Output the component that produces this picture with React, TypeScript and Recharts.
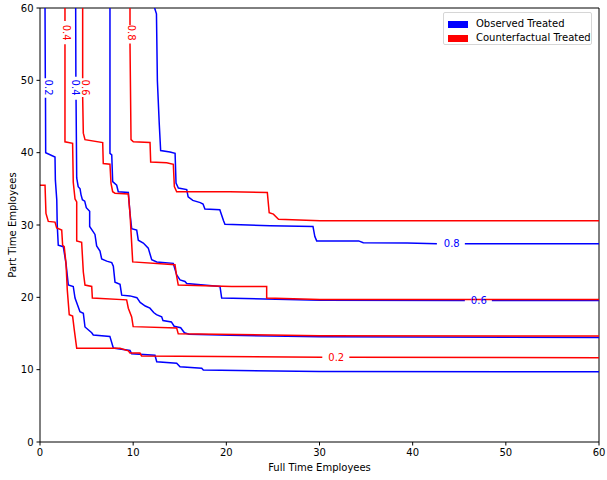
import { LineChart, Line, XAxis, YAxis, ReferenceLine, ReferenceDot } from 'recharts';

const FONT = '"DejaVu Sans", sans-serif';
const BLUE = '#0000ff';
const RED = '#ff0000';

const axisTicks = [0, 10, 20, 30, 40, 50, 60];

type Pt = [number, number | null];

// observed treated contours (blue)
const observed02: Pt[] = [
  [0.54, 60], [0.57, 50.3], [0.58, null], [0.59, 47.6], [0.61, 40.0], [1.61, 39.4],
  [1.65, 36.2], [1.8, 33.5], [1.85, 30], [1.96, 27.2], [2.5, 27.0], [2.79, 24.7],
  [3.04, 21.7], [3.57, 21.5], [3.76, 19.9], [4.29, 18.0], [4.65, 17.8], [4.83, 15.9],
  [5.55, 15.1], [5.72, 14.8], [7.5, 14.6], [7.87, 13.0], [9.66, 12.65], [9.84, 12.2],
  [12.34, 12.0], [12.53, 11.1], [14.67, 10.9], [15.03, 10.4], [17.36, 10.2],
  [17.53, 9.95], [30, 9.75], [60, 9.7],
];

const observed04: Pt[] = [
  [3.83, 60], [3.85, 50.5], [3.86, null], [3.87, 47.3], [3.94, 36.5], [4.1, 35.3],
  [4.3, 35.0], [4.4, 34.2], [4.55, 33.5], [4.8, 33.3], [4.97, 32.4], [5.33, 31.9],
  [5.33, 29.8], [5.9, 28.7], [6.08, 27.1], [6.44, 26.4], [6.62, 25.3], [7.16, 25.0],
  [7.7, 24.8], [7.87, 24.3], [8.05, 22.1], [8.59, 21.8], [8.77, 20.3], [9.66, 20.2],
  [10.4, 19.95], [10.75, 19.3], [11.3, 18.8], [11.8, 18.5], [12.2, 17.9], [12.5, 17.6],
  [13.06, 17.3], [13.2, 16.8], [14.1, 16.6], [14.4, 16.0], [15.1, 15.8], [15.5, 15.1],
  [16.0, 14.9], [20.4, 14.75], [30, 14.55], [60, 14.45],
];

const observed06: Pt[] = [
  [7.51, 60], [7.51, 39.9], [7.7, 39.7], [7.8, 36.0], [8.23, 35.5], [8.4, 34.6],
  [9.48, 34.5], [9.66, 31.6], [9.84, 29.5], [10.38, 29.3], [10.55, 27.9], [11.09, 27.5],
  [11.62, 26.8], [11.99, 25.2], [12.53, 24.9], [14.3, 24.7], [14.67, 23.1], [15.03, 22.4],
  [15.56, 22.2], [15.75, 21.9], [19.32, 21.5], [19.5, 19.9], [30.05, 19.6], [45.6, 19.55],
  [47, null], [48.5, 19.55], [60, 19.55],
];

const observed08: Pt[] = [
  [12.3, 60], [12.5, 59.2], [12.6, 49.9], [12.8, 44.0], [12.95, 40.3], [13.95, 40.1],
  [14.5, 39.9], [14.6, 35.8], [14.85, 35.1], [15.75, 34.9], [15.9, 33.9], [16.4, 33.4],
  [17.2, 33.1], [17.5, 32.9], [17.7, 32.2], [19.3, 32.1], [19.7, 30.6], [19.85, 30.1],
  [24.7, 29.9], [29.3, 29.8], [29.5, 28.4], [29.7, 27.8], [34.2, 27.8], [34.7, 27.55],
  [39.4, 27.5], [42.6, 27.4], [44, null], [45.6, 27.4], [60, 27.4],
];

// counterfactual treated contours (red)
const counter02: Pt[] = [
  [0, 35.5], [0.54, 35.5], [0.64, 31.6], [0.89, 30.5], [1.61, 30.4], [1.79, 29.6],
  [2.33, 29.3], [2.43, 27.2], [2.6, 27.0], [2.79, 24.7], [2.93, 21.0], [3.14, 17.6],
  [3.5, 17.4], [3.68, 15.5], [3.94, 12.95], [8.59, 12.95], [9.48, 12.6], [9.66, 12.3],
  [10.73, 12.3], [10.9, 11.9], [30.3, 11.7], [31.8, null], [33.2, 11.7], [60, 11.65],
];

const counter04: Pt[] = [
  [2.68, 60], [2.68, 58.2], [2.68, null], [2.68, 55.0], [2.68, 41.5], [3.5, 41.3],
  [3.57, 35.9], [3.76, 33.6], [3.94, 33.2], [3.94, 27.8], [4.47, 27.6], [4.65, 23.5],
  [4.83, 21.7], [5.55, 21.5], [5.62, 19.9], [9.3, 19.65], [9.48, 18.5], [9.84, 17.3],
  [10.0, 15.95], [14.67, 15.75], [14.84, 14.95], [30, 14.7], [60, 14.65],
];

const counter06: Pt[] = [
  [4.58, 60], [4.58, 50.3], [4.58, null], [4.58, 47.7], [4.65, 42.7], [4.83, 41.8],
  [6.73, 41.4], [6.79, 38.5], [7.51, 38.4], [7.62, 35.8], [7.8, 34.6], [8.05, 34.4],
  [9.48, 34.3], [9.66, 31.6], [9.95, 24.9], [14.49, 24.5], [14.67, 22.9], [14.84, 21.7],
  [20.57, 21.5], [24.33, 21.5], [24.33, 19.9], [30.05, 19.7], [60, 19.7],
];

const counter08: Pt[] = [
  [9.66, 60], [9.66, 57.6], [9.66, null], [9.66, 55.1], [9.77, 41.8], [10.02, 41.5],
  [11.81, 41.4], [11.88, 38.7], [13.6, 38.6], [14.31, 38.4], [14.42, 35.3], [14.67, 34.6],
  [20.4, 34.6], [24.4, 34.5], [24.6, 31.7], [25.05, 31.5], [25.6, 30.8], [30.05, 30.6],
  [60, 30.6],
];

const contours = [
  { id: 'obs02', pts: observed02, color: BLUE },
  { id: 'obs04', pts: observed04, color: BLUE },
  { id: 'obs06', pts: observed06, color: BLUE },
  { id: 'obs08', pts: observed08, color: BLUE },
  { id: 'cf02', pts: counter02, color: RED },
  { id: 'cf04', pts: counter04, color: RED },
  { id: 'cf06', pts: counter06, color: RED },
  { id: 'cf08', pts: counter08, color: RED },
];

const contourLabels = [
  { text: '0.2', x: 0.95, y: 49.0, color: BLUE, vertical: true },
  { text: '0.4', x: 3.83, y: 49.0, color: BLUE, vertical: true },
  { text: '0.6', x: 4.83, y: 49.0, color: RED, vertical: true },
  { text: '0.4', x: 2.86, y: 56.6, color: RED, vertical: true },
  { text: '0.8', x: 9.84, y: 56.6, color: RED, vertical: true },
  { text: '0.8', x: 44.2, y: 27.4, color: BLUE, vertical: false },
  { text: '0.6', x: 47.1, y: 19.6, color: BLUE, vertical: false },
  { text: '0.2', x: 31.8, y: 11.65, color: RED, vertical: false },
];

const legendItems = [
  { name: 'Observed Treated', color: BLUE },
  { name: 'Counterfactual Treated', color: RED },
];

const toRows = (pts: Pt[]) => pts.map(([x, y]) => ({ x, y }));

const tickStyle = { fontSize: 10, fontFamily: FONT, fill: '#000' };

export default function App() {
  return (
    <div style={{ position: 'absolute', left: 0, top: 0, width: 607, height: 480, background: '#fff' }}>
      <LineChart width={607} height={480} margin={{ top: 8, right: 8, bottom: 0, left: 8 }}>
        <XAxis
          type="number"
          dataKey="x"
          domain={[0, 60]}
          ticks={axisTicks}
          height={38}
          tickSize={3.5}
          tickMargin={3}
          tick={tickStyle}
          axisLine={{ stroke: '#000' }}
          tickLine={{ stroke: '#000' }}
          allowDataOverflow
          label={{
            content: ({ viewBox }: any) => (
              <text
                x={viewBox.x + viewBox.width / 2}
                y={viewBox.y + 29}
                textAnchor="middle"
                style={tickStyle}
              >
                Full Time Employees
              </text>
            ),
          }}
        />
        <YAxis
          type="number"
          dataKey="y"
          domain={[0, 60]}
          ticks={axisTicks}
          width={32}
          tickSize={3.5}
          tickMargin={3}
          tick={tickStyle}
          axisLine={{ stroke: '#000' }}
          tickLine={{ stroke: '#000' }}
          allowDataOverflow
          label={{
            content: ({ viewBox }: any) => {
              const cx = viewBox.x + 4;
              const cy = viewBox.y + viewBox.height / 2;
              return (
                <text
                  x={cx}
                  y={cy}
                  transform={`rotate(-90 ${cx} ${cy})`}
                  textAnchor="middle"
                  dominantBaseline="central"
                  style={tickStyle}
                >
                  Part Time Employees
                </text>
              );
            },
          }}
        />
        <ReferenceLine y={60} stroke="#000" strokeWidth={1} />
        <ReferenceLine x={60} stroke="#000" strokeWidth={1} />
        {contours.map((c) => (
          <Line
            key={c.id}
            data={toRows(c.pts)}
            dataKey="y"
            type="linear"
            stroke={c.color}
            strokeWidth={1.5}
            dot={false}
            activeDot={false}
            isAnimationActive={false}
          />
        ))}
        {contourLabels.map((l, i) => (
          <ReferenceDot
            key={i}
            x={l.x}
            y={l.y}
            r={0}
            shape={(p: any) => (
              <text
                x={p.cx}
                y={p.cy}
                transform={l.vertical ? `rotate(90 ${p.cx} ${p.cy})` : undefined}
                textAnchor="middle"
                dominantBaseline="central"
                fill={l.color}
                fontSize={10}
                fontFamily={FONT}
              >
                {l.text}
              </text>
            )}
          />
        ))}
      </LineChart>
      <div
        style={{
          position: 'absolute',
          left: 443,
          top: 12,
          width: 149,
          height: 33,
          boxSizing: 'border-box',
          border: '1px solid #d6d6d6',
          borderRadius: 2,
          background: 'rgba(255,255,255,0.8)',
          fontFamily: FONT,
          fontSize: 10,
          padding: '4px 0 0 4px',
        }}
      >
        {legendItems.map((it) => (
          <div key={it.name} style={{ display: 'flex', alignItems: 'center', height: 14 }}>
            <span style={{ display: 'inline-block', width: 20, height: 7, background: it.color, marginRight: 8 }} />
            <span style={{ lineHeight: '14px', whiteSpace: 'nowrap' }}>{it.name}</span>
          </div>
        ))}
      </div>
    </div>
  );
}
